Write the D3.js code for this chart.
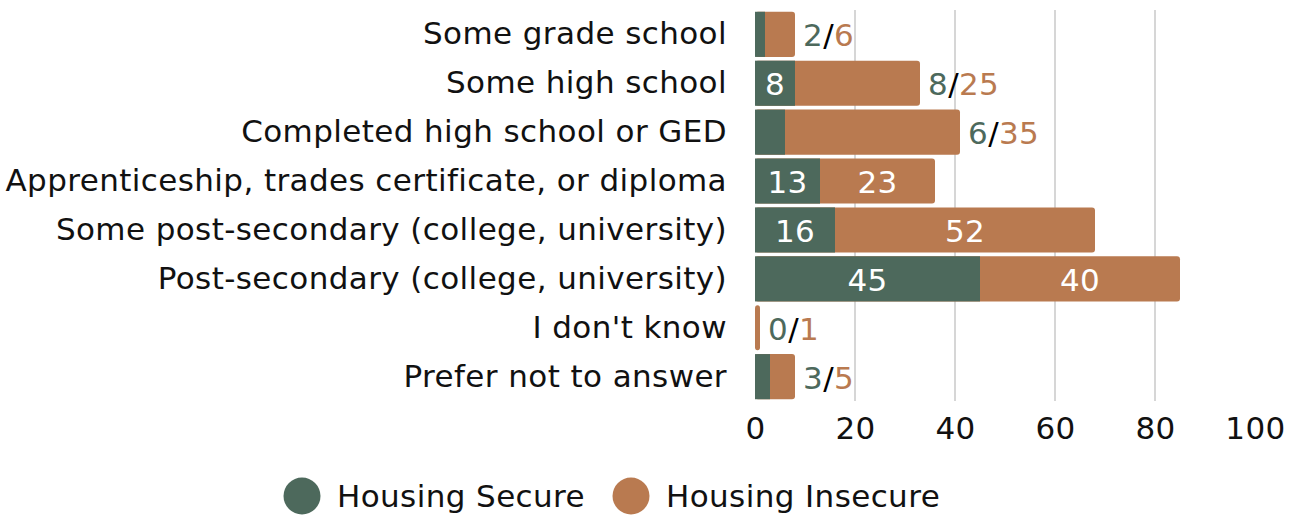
<!DOCTYPE html>
<html>
<head>
<meta charset="utf-8">
<script src="https://cdn.jsdelivr.net/npm/d3@7"></script>
<style>
  html, body { margin: 0; padding: 0; background: #fff; }
  svg { display: block; font-family: "DejaVu Sans", sans-serif; letter-spacing: 0.4px; }
</style>
</head>
<body>
<svg id="chart" width="1294" height="515"></svg>
<script>
// ---- data ----
const categories = [
  'Some grade school',
  'Some high school',
  'Completed high school or GED',
  'Apprenticeship, trades certificate, or diploma',
  'Some post-secondary (college, university)',
  'Post-secondary (college, university)',
  "I don't know",
  'Prefer not to answer'
];
const secure   = [2, 8, 6, 13, 16, 45, 0, 3];
const insecure = [6, 25, 35, 23, 52, 40, 1, 5];
// which values were printed inside the bar segments
const secureInside   = [false, true, false, true, true, true, false, false];
const insecureInside = [false, false, false, true, true, true, false, false];
const xTicks = [0, 20, 40, 60, 80, 100];
const seriesNames = ['Housing Secure', 'Housing Insecure'];

const COLORS = { secure: '#4d695c', insecure: '#b97a50' };
const FONT = 31;
const FAMILY = '"DejaVu Sans", sans-serif';

const svg = d3.select('#chart');

const x = d3.scaleLinear().domain([0, 100]).range([755, 1255]);
const y = d3.scaleBand().domain(categories).range([8, 403]).padding(0.077);

// gridlines
svg.append('g').selectAll('line')
  .data(xTicks.filter(t => t > 0 && t < 100))
  .enter().append('line')
    .attr('x1', d => x(d)).attr('x2', d => x(d))
    .attr('y1', 10).attr('y2', 401)
    .attr('stroke', '#c8c8c8').attr('stroke-width', 1.5);

// x axis labels
const xAxis = svg.append('g')
  .attr('transform', 'translate(0,403)')
  .call(d3.axisBottom(x).tickValues(xTicks).tickSize(0).tickPadding(14));
xAxis.select('.domain').remove();
xAxis.selectAll('text')
  .attr('font-size', FONT).attr('fill', '#111').attr('font-family', FAMILY);

// y axis labels
const yAxis = svg.append('g')
  .attr('transform', 'translate(727,0)')
  .call(d3.axisLeft(y).tickSize(0).tickPadding(0));
yAxis.select('.domain').remove();
yAxis.selectAll('text')
  .attr('font-size', FONT).attr('fill', '#111').attr('font-family', FAMILY);

const rows = categories.map((c, i) => ({
  cat: c, s: secure[i], u: insecure[i],
  sIn: secureInside[i], uIn: insecureInside[i]
}));

const bars = svg.append('g');
// insecure segment drawn full length (rounded end), secure on top
bars.selectAll('.ins').data(rows).enter().append('rect')
  .attr('x', x(0))
  .attr('y', d => y(d.cat))
  .attr('width', d => x(d.s + d.u) - x(0))
  .attr('height', y.bandwidth())
  .attr('rx', 3)
  .attr('fill', COLORS.insecure);
bars.selectAll('.sec').data(rows.filter(d => d.s > 0)).enter().append('rect')
  .attr('x', x(0))
  .attr('y', d => y(d.cat))
  .attr('width', d => x(d.s) - x(0))
  .attr('height', y.bandwidth())
  .attr('fill', COLORS.secure);

// inside labels
const lab = svg.append('g').attr('font-size', FONT).attr('fill', '#fff')
  .attr('text-anchor', 'middle').attr('dominant-baseline', 'central');
lab.selectAll('.sl').data(rows.filter(d => d.sIn)).enter().append('text')
  .attr('x', d => (x(0) + x(d.s)) / 2)
  .attr('y', d => y(d.cat) + y.bandwidth() / 2 + 1)
  .text(d => d.s);
lab.selectAll('.ul').data(rows.filter(d => d.uIn)).enter().append('text')
  .attr('x', d => (x(d.s) + x(d.s + d.u)) / 2)
  .attr('y', d => y(d.cat) + y.bandwidth() / 2 + 1)
  .text(d => d.u);

// outside "secure/insecure" labels
const out = svg.append('g').attr('font-size', FONT).attr('dominant-baseline', 'central');
const ot = out.selectAll('text').data(rows.filter(d => !(d.sIn && d.uIn))).enter().append('text')
  .attr('x', d => x(d.s + d.u) + 8)
  .attr('y', d => y(d.cat) + y.bandwidth() / 2 + 1);
ot.append('tspan').attr('fill', COLORS.secure).text(d => d.s);
ot.append('tspan').attr('fill', '#000').text('/');
ot.append('tspan').attr('fill', COLORS.insecure).text(d => d.u);

// legend
const legendX = [302, 631];
const lg = svg.append('g').selectAll('g').data(seriesNames).enter().append('g')
  .attr('transform', (d, i) => `translate(${legendX[i]},496)`);
lg.append('circle').attr('r', 18.5)
  .attr('fill', (d, i) => i === 0 ? COLORS.secure : COLORS.insecure);
lg.append('text').attr('x', 35).attr('dominant-baseline', 'central')
  .attr('font-size', FONT).attr('fill', '#111').text(d => d);
</script>
</body>
</html>
